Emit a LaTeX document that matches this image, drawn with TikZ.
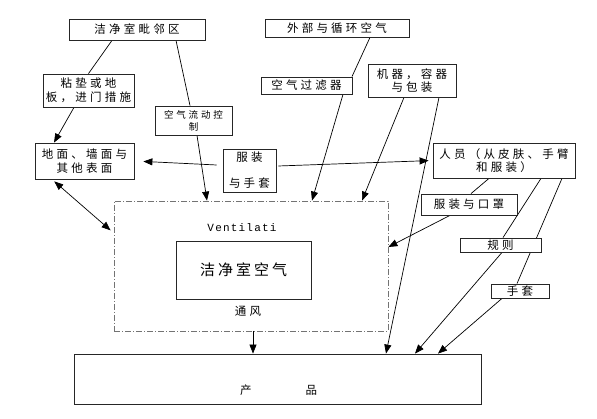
\documentclass[tikz,border=0pt]{standalone}
\usepackage{fontspec}
\newfontfamily\cjk[LetterSpace=28]{Noto Sans CJK SC}
\newfontfamily\cjkair[LetterSpace=20]{Noto Sans CJK SC}
\newfontfamily\cjksmall[LetterSpace=30]{Noto Sans CJK SC}
\newfontfamily\monoV[LetterSpace=11]{Liberation Mono}
\usetikzlibrary{arrows.meta}
\pgfdeclarelayer{bg}
\pgfsetlayers{bg,main}
\begin{document}
\begin{tikzpicture}[x=1pt,y=1pt,
  box/.style={draw=black!85, line width=0.8pt, fill=white, inner sep=1pt, align=center,
    font=\cjk\fontsize{11.5}{13.5}\selectfont},
  conn/.style={line width=0.7pt, black},
  arr/.style={conn, -{Triangle[length=9pt,width=7pt]}},
  darr/.style={conn, {Triangle[length=9pt,width=7pt]}-{Triangle[length=9pt,width=7pt]}},
  plain/.style={inner sep=0pt, align=center}
]
\useasboundingbox (0,0) rectangle (597,419);
% nodes
\node[box, minimum width=136pt, minimum height=21pt] (adj) at (137,389.5) {洁净室毗邻区};
\node[box, minimum width=91pt, minimum height=33pt] (mat) at (88.5,328.5) {粘垫或地\\板，进门措施};
\node[box, minimum width=77pt, minimum height=29pt, font=\cjksmall\fontsize{9.5}{12}\selectfont] (afc) at (193.5,298.5) {空气流动控\\制};
\node[box, minimum width=99pt, minimum height=36pt] (surf) at (84.5,258) {地面、墙面与\\其他表面};
\node[box, minimum width=53pt, minimum height=43pt] (glove1) at (249.5,248.5) {服装\\[12.5pt]与手套};
\node[box, minimum width=144pt, minimum height=18pt] (ext) at (337,391) {外部与循环空气};
\node[box, minimum width=91pt, minimum height=17pt] (filt) at (306.5,333.5) {空气过滤器};
\node[box, minimum width=88pt, minimum height=33pt, font=\cjk\fontsize{11.5}{12.5}\selectfont] (mach) at (412,338.5) {机器，容器\\与包装};
\node[box, minimum width=142pt, minimum height=35pt, font=\cjk\fontsize{11.5}{12.5}\selectfont] (pers) at (504,258.5) {人员（从皮肤、手臂\\和服装）};
\node[box, minimum width=96pt, minimum height=21pt] (mask) at (469,214.5) {服装与口罩};
\node[box, minimum width=81pt, minimum height=14pt] (rule) at (500.5,174) {规则};
\node[box, minimum width=58pt, minimum height=14pt] (glove2) at (520,128) {手套};
\node[draw=black!55, line width=0.8pt, dash pattern=on 6pt off 2pt on 1pt off 2pt,
      minimum width=274pt, minimum height=130pt, inner sep=0pt] (vent) at (251,153) {};
\node[box, minimum width=135pt, minimum height=58pt, font=\cjkair\fontsize{15}{17}\selectfont] (air) at (243.5,149) {洁净室空气};
\node[plain, font=\monoV\fontsize{11}{12}\selectfont] (ventlabel) at (242,191) {Ventilati};
\node[plain, font=\cjk\fontsize{11.5}{12}\selectfont] (tongfeng) at (248,108) {通风};
\node[box, minimum width=407pt, minimum height=50pt] (prod) at (277.5,40) {};
\node[plain, font=\cjk\fontsize{11.5}{12}\selectfont] (prodtext) at (278.5,29) {产\hspace{54pt}品};
% connectors
\begin{pgfonlayer}{bg}
\draw[conn] ([xshift=-25pt]adj.south) -- (mat.north);
\draw[arr] ([xshift=-14.5pt]mat.south) -- ([xshift=-30.5pt]surf.north);
\draw[conn] ([xshift=39pt]adj.south) -- ([xshift=-3.5pt]afc.north);
\draw[arr] ([xshift=3.5pt]afc.south) -- ([xshift=-44pt]vent.north);
\draw[arr, shorten >=9pt] ([xshift=-6pt,yshift=5.5pt]glove1.west) -- ([yshift=0pt]surf.east);
\draw[arr, shorten >=4pt] ([xshift=2pt,yshift=4.5pt]glove1.east) -- (pers.west);
\draw[darr, shorten <=3pt, shorten >=4pt] ([xshift=-32.5pt]surf.south) -- ([yshift=33pt]vent.west);
\draw[conn] ([xshift=33pt]ext.south) -- ([xshift=45.5pt]filt.north);
\draw[arr] ([xshift=36.5pt]filt.south) -- ([xshift=61pt]vent.north);
\draw[arr] ([xshift=-8pt]mach.south) -- ([xshift=111pt]vent.north);
\draw[arr] ([xshift=27pt]mach.south) -- ([xshift=108.5pt]prod.north);
\draw[conn] ([xshift=-15pt]pers.south) -- ([xshift=2pt]mask.north);
\draw[arr] ([xshift=-19pt]mask.south) -- ([yshift=19pt]vent.east);
\draw[conn] ([xshift=37pt]pers.south) -- ([xshift=2.5pt]rule.north);
\draw[arr] ([xshift=1.5pt]rule.south) -- ([xshift=137.5pt]prod.north);
\draw[conn] ([xshift=58pt]pers.south) -- ([xshift=-3pt]glove2.north);
\draw[arr] ([xshift=-18pt]glove2.south) -- ([xshift=160.5pt]prod.north);
\draw[arr] ([xshift=2pt]vent.south) -- ([xshift=-24.5pt]prod.north);
\end{pgfonlayer}
\end{tikzpicture}
\end{document}
